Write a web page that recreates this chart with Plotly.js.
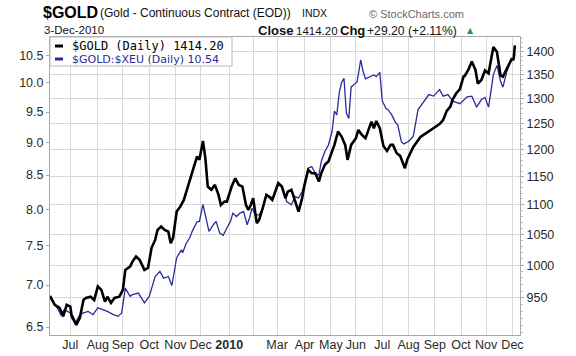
<!DOCTYPE html>
<html>
<head>
<meta charset="utf-8">
<script src="https://cdn.plot.ly/plotly-3.0.1.min.js"></script>
<style>
  html, body { margin: 0; padding: 0; background: #ffffff; }
  #chart { width: 576px; height: 356px; }
</style>
</head>
<body>
<div id="chart"></div>
<script>
// ---- data ----
const goldDates = [
  '2009-06-08','2009-06-12','2009-06-18','2009-06-23','2009-06-26','2009-07-01','2009-07-02','2009-07-08',
  '2009-07-13','2009-07-16','2009-07-20','2009-07-24','2009-07-29','2009-08-03','2009-08-06','2009-08-11',
  '2009-08-13','2009-08-18','2009-08-21','2009-08-27','2009-09-01','2009-09-03','2009-09-09','2009-09-11',
  '2009-09-16','2009-09-21','2009-09-25','2009-09-30','2009-10-05','2009-10-08','2009-10-12','2009-10-15',
  '2009-10-20','2009-10-23','2009-10-27','2009-10-29','2009-11-03','2009-11-06','2009-11-11','2009-11-13',
  '2009-11-18','2009-11-23','2009-11-26','2009-11-30','2009-12-03','2009-12-07','2009-12-09','2009-12-14',
  '2009-12-17','2009-12-22','2009-12-24','2009-12-29','2009-12-31','2010-01-06','2010-01-11','2010-01-14',
  '2010-01-19','2010-01-22','2010-01-26','2010-01-28','2010-02-01','2010-02-04','2010-02-08','2010-02-11',
  '2010-02-16','2010-02-18','2010-02-23','2010-03-02','2010-03-05','2010-03-10','2010-03-12','2010-03-17',
  '2010-03-19','2010-03-22','2010-03-25','2010-03-30','2010-04-01','2010-04-06','2010-04-09','2010-04-14',
  '2010-04-19','2010-04-21','2010-04-26','2010-04-29','2010-05-04','2010-05-06','2010-05-11','2010-05-14',
  '2010-05-19','2010-05-21','2010-05-26','2010-06-01','2010-06-03','2010-06-08','2010-06-11','2010-06-15',
  '2010-06-18','2010-06-22','2010-06-24','2010-06-29','2010-07-02','2010-07-07','2010-07-12','2010-07-14',
  '2010-07-19','2010-07-22','2010-07-28','2010-07-30','2010-08-03','2010-08-06','2010-08-16','2010-08-23',
  '2010-08-31','2010-09-07','2010-09-10','2010-09-15','2010-09-20','2010-09-22','2010-09-27','2010-09-30',
  '2010-10-05','2010-10-06','2010-10-11','2010-10-14','2010-10-19','2010-10-21','2010-10-26','2010-10-29',
  '2010-11-03','2010-11-08','2010-11-09','2010-11-12','2010-11-17','2010-11-19','2010-11-26','2010-11-30',
  '2010-12-02','2010-12-03'
];
const goldValues = [
  952.6, 939.4, 935.0, 922.3, 939.4, 936.9, 924.8, 910.2,
  920.4, 946.6, 949.6, 951.5, 946.6, 966.9, 961.8, 944.2,
  951.5, 942.3, 949.6, 951.5, 961.8, 992.6, 997.7, 1005.6,
  1013.7, 1008.4, 992.6, 995.7, 1027.7, 1040.6, 1057.1, 1062.7,
  1057.1, 1054.2, 1035.3, 1043.9, 1088.1, 1096.6, 1108.3, 1123.0,
  1143.8, 1165.2, 1186.7, 1180.6, 1216.4, 1183.7, 1131.9, 1126.1,
  1134.9, 1117.2, 1099.5, 1105.3, 1105.3, 1131.9, 1146.8, 1134.9,
  1131.9, 1099.5, 1091.0, 1099.5, 1111.3, 1068.5, 1074.1, 1093.9,
  1117.2, 1114.2, 1108.3, 1138.0, 1131.9, 1111.3, 1123.0, 1126.1,
  1114.2, 1105.3, 1088.1, 1111.3, 1134.9, 1162.0, 1155.9, 1155.9,
  1140.8, 1155.9, 1171.3, 1177.4, 1195.9, 1208.7, 1234.4, 1224.7,
  1208.7, 1180.6, 1208.7, 1221.6, 1237.6, 1228.0, 1221.6, 1234.4,
  1253.8, 1240.9, 1255.2, 1240.9, 1206.8, 1197.3, 1208.7, 1208.7,
  1193.5, 1188.0, 1165.2, 1181.5, 1191.7, 1204.8, 1224.1, 1231.8,
  1241.5, 1249.2, 1257.2, 1275.3, 1284.0, 1298.8, 1311.3, 1319.7,
  1346.0, 1347.5, 1360.4, 1378.8, 1360.4, 1331.4, 1339.1, 1359.3,
  1353.2, 1395.5, 1410.5, 1399.3, 1348.5, 1346.0, 1371.2, 1382.1,
  1385.0, 1414.2
];
const ratioDates = [
  '2009-06-08','2009-06-12','2009-06-17','2009-06-19','2009-06-24','2009-07-01','2009-07-02','2009-07-07',
  '2009-07-13','2009-07-16','2009-07-22','2009-07-28','2009-08-03','2009-08-07','2009-08-13','2009-08-20',
  '2009-08-26','2009-08-31','2009-09-03','2009-09-09','2009-09-11','2009-09-18','2009-09-25','2009-10-01',
  '2009-10-08','2009-10-14','2009-10-19','2009-10-23','2009-10-28','2009-11-03','2009-11-09','2009-11-10',
  '2009-11-13','2009-11-18','2009-11-20','2009-11-26','2009-11-30','2009-12-03','2009-12-07','2009-12-10',
  '2009-12-16','2009-12-18','2009-12-23','2009-12-28','2009-12-31','2010-01-05','2010-01-07','2010-01-12',
  '2010-01-15','2010-01-20','2010-01-25','2010-01-27','2010-01-29','2010-02-03','2010-02-08','2010-02-11',
  '2010-02-16','2010-02-19','2010-02-24','2010-03-02','2010-03-08','2010-03-11','2010-03-17','2010-03-22',
  '2010-03-25','2010-03-30','2010-04-01','2010-04-06','2010-04-09','2010-04-14','2010-04-19','2010-04-21',
  '2010-04-26','2010-04-29','2010-05-04','2010-05-06','2010-05-10','2010-05-12','2010-05-14','2010-05-18',
  '2010-05-20','2010-05-24','2010-05-26','2010-05-28','2010-06-02','2010-06-07','2010-06-09','2010-06-11',
  '2010-06-17','2010-06-22','2010-06-24','2010-06-29','2010-07-01','2010-07-06','2010-07-08','2010-07-13',
  '2010-07-16','2010-07-20','2010-07-23','2010-07-27','2010-08-02','2010-08-06','2010-08-12','2010-08-18',
  '2010-08-25','2010-08-31','2010-09-07','2010-09-10','2010-09-16','2010-09-22','2010-09-30','2010-10-08',
  '2010-10-14','2010-10-20','2010-10-26','2010-10-29','2010-11-03','2010-11-09','2010-11-12','2010-11-17',
  '2010-11-19','2010-11-24','2010-11-30','2010-12-02','2010-12-03'
];
const ratioValues = [
  6.842, 6.762, 6.702, 6.643, 6.702, 6.663, 6.604, 6.545,
  6.643, 6.663, 6.682, 6.643, 6.723, 6.702, 6.682, 6.643,
  6.623, 6.663, 6.961, 6.861, 6.881, 6.901, 6.782, 6.861,
  7.106, 7.170, 7.086, 7.106, 6.994, 7.345, 7.448, 7.409,
  7.536, 7.608, 7.695, 7.827, 7.832, 8.071, 7.923, 7.695,
  7.793, 7.832, 7.673, 7.642, 7.741, 7.832, 7.947, 7.900,
  7.947, 7.969, 7.786, 7.882, 8.016, 7.923, 7.923, 8.016,
  8.209, 8.185, 8.161, 8.362, 8.307, 8.112, 8.064, 8.185,
  8.161, 8.257, 8.355, 8.603, 8.628, 8.526, 8.500, 8.705,
  8.860, 8.963, 9.178, 9.514, 9.451, 9.821, 10.007, 10.083,
  9.483, 9.392, 9.930, 9.964, 10.022, 10.415, 10.203, 10.071,
  10.112, 10.143, 10.112, 10.188, 9.692, 9.564, 9.534, 9.451,
  9.329, 9.288, 9.015, 8.980, 9.018, 9.103, 9.540, 9.655,
  9.797, 9.770, 9.883, 9.770, 9.797, 9.684, 9.641, 9.758,
  9.770, 9.582, 9.711, 9.746, 9.582, 10.149, 10.315, 10.029,
  9.926, 10.179, 10.45, 10.40, 10.54
];

// axis ticks
const monthTickDates = [
  '2009-07-01','2009-08-03','2009-09-01','2009-10-01','2009-11-02','2009-12-01',
  '2010-01-04','2010-02-01','2010-03-01','2010-04-01','2010-05-03','2010-06-01',
  '2010-07-01','2010-08-02','2010-09-01','2010-10-01','2010-11-01','2010-12-01'
];
const monthTickLabels = [
  'Jul','Aug','Sep','Oct','Nov','Dec','<b>2010</b>','','Mar','Apr','May','Jun',
  'Jul','Aug','Sep','Oct','Nov','Dec'
];
const ratioTicks = [6.5, 7.0, 7.5, 8.0, 8.5, 9.0, 9.5, 10.0, 10.5];
const goldTicks = [950, 1000, 1050, 1100, 1150, 1200, 1250, 1300, 1350, 1400];
const goldMinorTicks = [];
for (let v = 900; v <= 1430; v += 10) goldMinorTicks.push(v);

const BLUE = '#2c2c98';
const GRID = '#d8d8d8';
const FRAME = '#a8a8a8';
const SANS = 'Liberation Sans, Arial, sans-serif';
const TICKFONT = {family: SANS, size: 12.5, color: '#2a2a2a'};

const traces = [
  {
    x: ratioDates, y: ratioValues, type: 'scatter', mode: 'lines',
    name: '$GOLD:$XEU (Daily)', yaxis: 'y',
    line: {color: BLUE, width: 1.3}, hoverinfo: 'skip'
  },
  {
    x: goldDates, y: goldValues, type: 'scatter', mode: 'lines',
    name: '$GOLD (Daily)', yaxis: 'y2',
    line: {color: '#000000', width: 2.6}, hoverinfo: 'skip'
  }
];

function px(x) { return (x - 50) / 470; }
function py(y) { return (335 - y) / 298; }

const ann = (text, x, y, font, xanchor) => ({
  text: text, xref: 'paper', yref: 'paper', x: px(x), y: py(y),
  xanchor: xanchor || 'left', yanchor: 'middle', showarrow: false, font: font, borderpad: 0
});

const annotations = [
  ann('<b>$GOLD</b>', 42, 12.5, {family: SANS, size: 16, color: '#000'}),
  ann('(Gold - Continuous Contract (EOD))', 99, 13.5, {family: SANS, size: 12, color: '#111'}),
  ann('INDX', 301, 13.5, {family: SANS, size: 10.5, color: '#111'}),
  ann('\u00A9 StockCharts.com', 368, 14, {family: SANS, size: 11, color: '#6a6a6a'}),
  ann('3-Dec-2010', 43, 30.5, {family: SANS, size: 11.5, color: '#111'}),
  ann('<b>Close</b>', 257, 31, {family: SANS, size: 13, color: '#111'}),
  ann('1414.20', 295, 31, {family: SANS, size: 11.5, color: '#111'}),
  ann('<b>Chg</b>', 339, 31, {family: SANS, size: 13, color: '#111'}),
  ann('+29.20 (+2.11%)', 366, 31, {family: SANS, size: 12.2, color: '#111'}),
  ann('\u25B2', 466, 31, {family: 'DejaVu Sans, sans-serif', size: 8, color: '#2e9a2e'}),
  ann('$GOLD (Daily) 1414.20', 71, 45.5, {family: 'DejaVu Sans Mono, monospace', size: 12, color: '#000'}),
  ann('$GOLD:$XEU (Daily) 10.54', 71, 59, {family: 'DejaVu Sans, Verdana, sans-serif', size: 11, color: BLUE})
];

const shapes = [
  {type: 'rect', xref: 'paper', yref: 'paper', x0: 0, x1: px(232), y0: py(66), y1: 1,
   fillcolor: '#ffffff', line: {color: '#b8b8b8', width: 1}, layer: 'above'},
  {type: 'line', xref: 'paper', yref: 'paper', x0: px(55), x1: px(63), y0: py(46), y1: py(46),
   line: {color: '#000', width: 3}, layer: 'above'},
  {type: 'line', xref: 'paper', yref: 'paper', x0: px(55), x1: px(63), y0: py(59), y1: py(59),
   line: {color: BLUE, width: 3}, layer: 'above'}
];

const layout = {
  width: 576, height: 356,
  margin: {l: 50, r: 56, t: 37, b: 21, pad: 0},
  paper_bgcolor: '#ffffff', plot_bgcolor: '#ffffff',
  showlegend: false,
  xaxis: {
    type: 'date',
    range: ['2009-06-08', '2010-12-09 07:00'],
    rangebreaks: [{bounds: ['sat', 'mon']}],
    tickmode: 'array', tickvals: monthTickDates, ticktext: monthTickLabels,
    tickangle: 0, tickfont: TICKFONT, ticks: '', ticklen: 0, ticklabelstandoff: -2,
    showgrid: true, gridcolor: GRID, gridwidth: 1,
    showline: true, linecolor: FRAME, linewidth: 1, mirror: true,
    zeroline: false, fixedrange: true
  },
  yaxis: {
    type: 'log', side: 'left',
    range: [0.806777, 1.035217],
    tickmode: 'array', tickvals: ratioTicks, ticktext: ratioTicks.map(v => v.toFixed(1)),
    tickfont: TICKFONT, ticks: 'outside', ticklen: 3, tickcolor: FRAME,
    showgrid: false, showline: true, linecolor: FRAME, linewidth: 1,
    zeroline: false, fixedrange: true
  },
  yaxis2: {
    type: 'log', side: 'right', overlaying: 'y',
    range: [2.952193, 3.156191],
    tickmode: 'array', tickvals: goldTicks, ticktext: goldTicks.map(String),
    tickfont: TICKFONT, ticks: 'outside', ticklen: 3, tickcolor: FRAME,
    minor: {tickmode: 'array', tickvals: goldMinorTicks, ticks: 'outside', ticklen: 2, tickcolor: '#c0c0c0'},
    showgrid: true, gridcolor: GRID, gridwidth: 1,
    showline: true, linecolor: FRAME, linewidth: 1,
    zeroline: false, fixedrange: true
  },
  annotations: annotations,
  shapes: shapes
};

Plotly.newPlot('chart', traces, layout, {displayModeBar: false, staticPlot: true});
</script>
</body>
</html>
